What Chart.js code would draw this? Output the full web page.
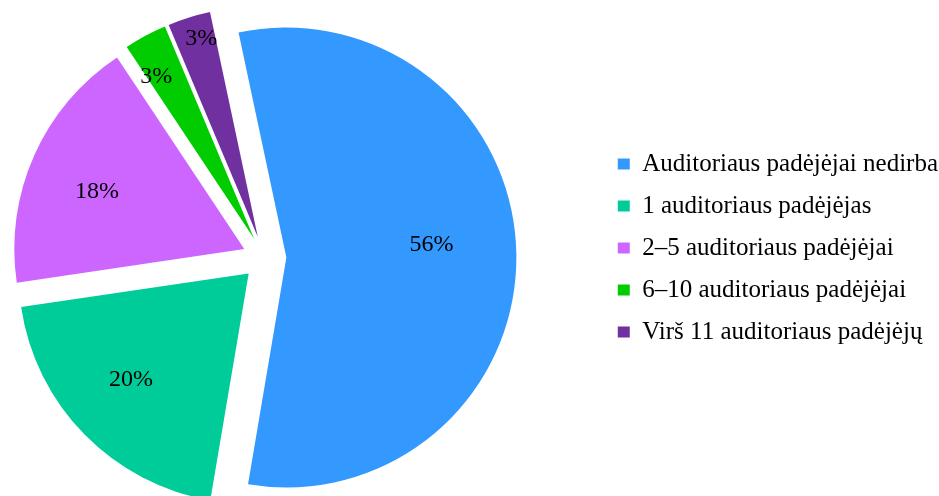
<!DOCTYPE html>
<html>
<head>
<meta charset="utf-8">
<script src="https://cdn.jsdelivr.net/npm/chart.js@4.4.1/dist/chart.umd.min.js"></script>
<style>
  html, body { margin: 0; padding: 0; background: #fff; overflow: hidden; }
  /* canvas starts left of the page so the pie sits closer to the edge */
  #wrap { width: 1020px; height: 496px; position: relative; margin-left: -72px; }
</style>
</head>
<body>
<div id="wrap"><canvas id="pieChart"></canvas></div>
<script>
// Data
const categories = [
  "Auditoriaus padėjėjai nedirba",
  "1 auditoriaus padėjėjas",
  "2–5 auditoriaus padėjėjai",
  "6–10 auditoriaus padėjėjai",
  "Virš 11 auditoriaus padėjėjų"
];
const shares = [56, 20, 18, 3, 3];
const sliceColors = ["#3399FF", "#00CC99", "#CC66FF", "#00CC00", "#7030A0"];

Chart.defaults.font.family = "'Liberation Serif', 'Times New Roman', serif";
Chart.defaults.color = "#000";

// draws every slice pulled out from the centre (Chart.js offset grows the radius too)
const explodePlugin = {
  id: "explode",
  beforeDatasetDraw(chart, args, opts) {
    const ctx = chart.ctx;
    args.meta.data.forEach((arc) => {
      const p = arc.getProps(["x", "y", "startAngle", "endAngle", "outerRadius"], true);
      const mid = (p.startAngle + p.endAngle) / 2;
      const cx = p.x + Math.cos(mid) * opts.distance;
      const cy = p.y + Math.sin(mid) * opts.distance;
      ctx.save();
      ctx.beginPath();
      ctx.moveTo(cx, cy);
      ctx.arc(cx, cy, p.outerRadius, p.startAngle, p.endAngle);
      ctx.closePath();
      ctx.fillStyle = arc.options.backgroundColor;
      ctx.fill();
      ctx.restore();
    });
    return false;
  },
  afterDatasetsDraw(chart, args, opts) {
    const ctx = chart.ctx;
    const meta = chart.getDatasetMeta(0);
    const values = chart.data.datasets[0].data;
    ctx.save();
    ctx.font = opts.font;
    ctx.fillStyle = "#000";
    ctx.textAlign = "center";
    ctx.textBaseline = "middle";
    meta.data.forEach((arc, i) => {
      const p = arc.getProps(["x", "y", "startAngle", "endAngle", "outerRadius"], true);
      const mid = (p.startAngle + p.endAngle) / 2;
      const place = opts.labelPlace[i];
      const a = mid + place.da * Math.PI / 180;
      const cx = p.x + Math.cos(mid) * opts.distance;
      const cy = p.y + Math.sin(mid) * opts.distance;
      const r = p.outerRadius * place.r;
      ctx.fillText(values[i] + "%", cx + Math.cos(a) * r, cy + Math.sin(a) * r);
    });
    ctx.restore();
  }
};

new Chart(document.getElementById("pieChart"), {
  type: "pie",
  data: {
    labels: categories,
    datasets: [{
      data: shares,
      backgroundColor: sliceColors,
      borderWidth: 0,
      radius: 230
    }]
  },
  options: {
    responsive: true,
    maintainAspectRatio: false,
    animation: false,
    rotation: -12,
    plugins: {
      // empty title only used to push the pie down a little
      title: { display: true, text: "", fullSize: false, font: { size: 0 }, padding: { top: 20, bottom: 0 } },
      legend: {
        position: "right",
        labels: {
          boxWidth: 12,
          boxHeight: 11,
          padding: 17,
          font: { size: 25 },
          color: "#000"
        }
      },
      tooltip: { enabled: false },
      explode: {
        distance: 22,
        font: "24px 'Liberation Serif', 'Times New Roman', serif",
        labelPlace: [
          { r: 0.633, da: -4 },
          { r: 0.691, da: 2.2 },
          { r: 0.687, da: -2.9 },
          { r: 0.822, da: -2.9 },
          { r: 0.896, da: 1.5 }
        ]
      }
    }
  },
  plugins: [explodePlugin]
});
</script>
</body>
</html>
